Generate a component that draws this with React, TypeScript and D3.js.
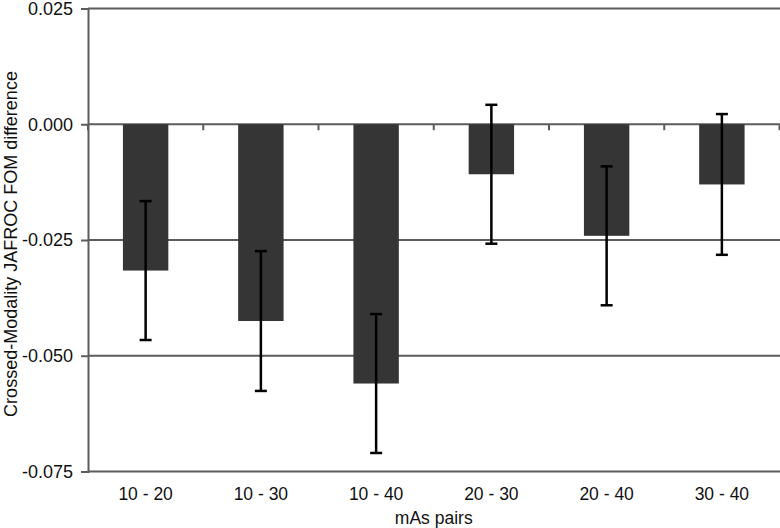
import { useEffect, useRef } from "react";
import * as d3 from "d3";

const PAIRS = ["10 - 20", "10 - 30", "10 - 40", "20 - 30", "20 - 40", "30 - 40"];
const FOM_DIFF = [-0.0316, -0.0425, -0.056, -0.0108, -0.0241, -0.013];
const FOM_ERR = [0.015, 0.0151, 0.015, 0.015, 0.015, 0.0152];
const Y_TICKS = [0.025, 0, -0.025, -0.05, -0.075];

const W = 780;
const H = 528;
const FONT = "'Liberation Sans', Arial, sans-serif";

export default function App() {
  const ref = useRef<SVGSVGElement | null>(null);

  useEffect(() => {
    if (!ref.current) return;
    const svg = d3.select(ref.current);
    svg.selectAll("*").remove();

    const left = 88, right = 779.5, top = 8.5, bottom = 471.5;

    const x = d3.scaleBand().domain(PAIRS).range([left, right])
      .paddingInner(0.606).paddingOuter(0.303);
    const y = d3.scaleLinear().domain([-0.075, 0.025]).range([bottom, top]);
    const step = x.step();

    // horizontal gridlines
    svg.append("g")
      .selectAll("line")
      .data(Y_TICKS)
      .join("line")
      .attr("x1", left).attr("x2", W)
      .attr("y1", d => y(d)).attr("y2", d => y(d))
      .attr("stroke", "#5c5c5c").attr("stroke-width", 2);

    // bars
    svg.append("g")
      .selectAll("rect")
      .data(FOM_DIFF)
      .join("rect")
      .attr("x", (_, i) => x(PAIRS[i]) || 0)
      .attr("y", y(0))
      .attr("width", x.bandwidth())
      .attr("height", d => y(d) - y(0))
      .attr("fill", "#353535");

    // category ticks on the zero line
    const bounds = d3.range(0, PAIRS.length + 1).map(i => left + i * step);
    svg.append("g")
      .selectAll("line")
      .data(bounds)
      .join("line")
      .attr("x1", d => d).attr("x2", d => d)
      .attr("y1", y(0)).attr("y2", y(0) + 6)
      .attr("stroke", "#5c5c5c").attr("stroke-width", 2);

    // y axis
    const yAxis = svg.append("g")
      .attr("transform", `translate(${left},0)`)
      .call(d3.axisLeft(y).tickValues(Y_TICKS).tickFormat(d3.format(".3f")).tickSize(7).tickPadding(8));
    yAxis.select(".domain").attr("stroke", "#5c5c5c").attr("stroke-width", 2);
    yAxis.selectAll(".tick line").attr("stroke", "#5c5c5c").attr("stroke-width", 2);
    yAxis.selectAll("text")
      .attr("fill", "#111").style("font-family", FONT).style("font-size", "18px")
      .text(d => d3.format(".3f")(d as number).replace("−", "-"));

    // error bars
    const eb = svg.append("g").attr("stroke", "#000").attr("stroke-width", 2.5);
    FOM_DIFF.forEach((v, i) => {
      const cx = (x(PAIRS[i]) || 0) + x.bandwidth() / 2;
      const y1 = y(v + FOM_ERR[i]);
      const y2 = y(v - FOM_ERR[i]);
      eb.append("line").attr("x1", cx).attr("x2", cx).attr("y1", y1).attr("y2", y2);
      eb.append("line").attr("x1", cx - 6).attr("x2", cx + 6).attr("y1", y1).attr("y2", y1);
      eb.append("line").attr("x1", cx - 6).attr("x2", cx + 6).attr("y1", y2).attr("y2", y2);
    });

    // category labels
    svg.append("g")
      .selectAll("text")
      .data(PAIRS)
      .join("text")
      .attr("x", d => (x(d) || 0) + x.bandwidth() / 2)
      .attr("y", 500)
      .attr("text-anchor", "middle")
      .style("font-family", FONT).style("font-size", "17.5px")
      .attr("fill", "#111")
      .text(d => d);

    svg.append("text")
      .attr("x", (left + right) / 2)
      .attr("y", 523.5)
      .attr("text-anchor", "middle")
      .style("font-family", FONT).style("font-size", "17.5px")
      .attr("fill", "#111")
      .text("mAs pairs");

    svg.append("text")
      .attr("transform", `translate(16.5,244) rotate(-90)`)
      .attr("text-anchor", "middle")
      .style("font-family", FONT).style("font-size", "18px")
      .attr("fill", "#111")
      .text("Crossed-Modality JAFROC FOM difference");
  }, []);

  return (
    <svg
      ref={ref}
      width={W}
      height={H}
      style={{ position: "absolute", left: 0, top: 0, background: "#fff" }}
    />
  );
}
